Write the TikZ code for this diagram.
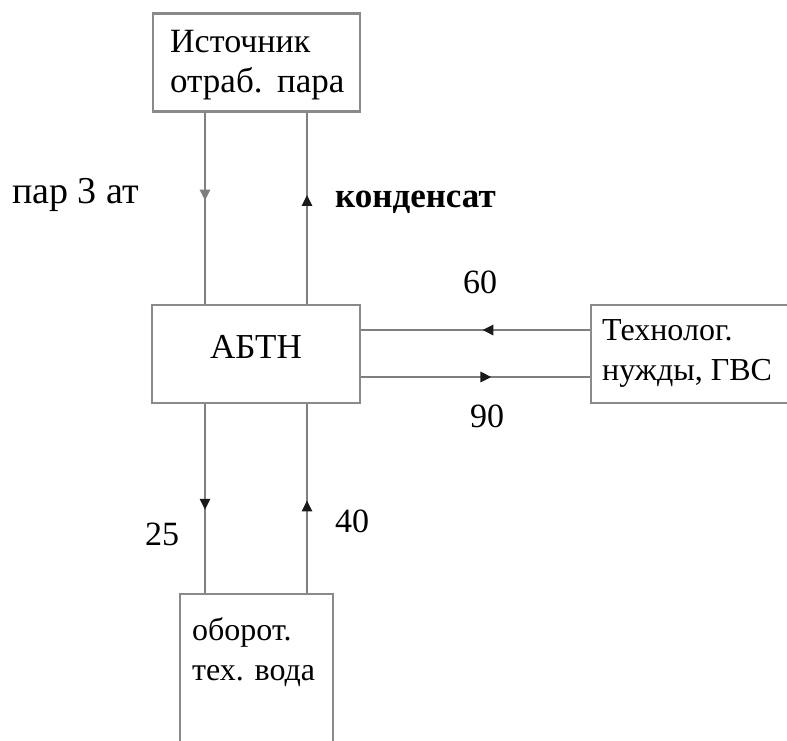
\documentclass[tikz,border=0pt]{standalone}
\usepackage{fontspec}
\setmainfont{Liberation Serif}
\usetikzlibrary{arrows.meta,decorations.markings}
\definecolor{boxgray}{HTML}{8A8A8A}
\definecolor{linegray}{HTML}{7F7F7F}
\definecolor{tipdark}{HTML}{1A1A1A}
\begin{document}
\begin{tikzpicture}[x=1pt,y=-1pt,
  box/.style={draw=boxgray, line width=2.8pt, fill=white, inner sep=0pt, rectangle},
  flow/.style={draw=linegray, line width=2.8pt},
  midtip/.style 2 args={postaction={decorate}, decoration={markings,
      mark=at position #1 with {\arrow[#2]{Triangle[width=10pt,length=11pt]}}}},
  lbl/.style={font=\fontsize{34}{42}\selectfont, inner sep=0pt, anchor=base west, text=black},
  small/.style={font=\fontsize{32}{40}\selectfont}]
\useasboundingbox (0,0) rectangle (787,740);
\clip (0,0) rectangle (787,740);
\fill[white] (0,0) rectangle (787,740);
% boxes
\node[box, minimum width=207pt, minimum height=98pt] (src) at (256.5,62.5) {};
\node[box, minimum width=208pt, minimum height=98pt, font=\fontsize{35}{42}\selectfont, text depth=15pt] (abtn) at (256,354) {АБТН};
\node[box, minimum width=209pt, minimum height=98pt] (tech) at (695.5,354) {};
\node[box, minimum width=153pt, minimum height=206pt] (water) at (256.5,697) {};
% x positions of vertical connectors
\coordinate (xl) at (205,0);
\coordinate (xr) at (307,0);
\coordinate (yu) at (0,330);
\coordinate (yd) at (0,377);
% connectors
\draw[flow, midtip={0.46}{linegray}] (src.south -| xl) -- (abtn.north -| xl);
\draw[flow, midtip={0.57}{tipdark}] (abtn.north -| xr) -- (src.south -| xr);
\draw[flow, midtip={0.47}{tipdark}] (tech.west |- yu) -- (abtn.east |- yu);
\draw[flow, midtip={0.57}{tipdark}] (abtn.east |- yd) -- (tech.west |- yd);
\draw[flow, midtip={0.56}{tipdark}] (abtn.south -| xl) -- (water.north -| xl);
\draw[flow, midtip={0.49}{tipdark}] (water.north -| xr) -- (abtn.south -| xr);
% texts
\node[lbl] (t1) at (170,52) {Источник};
\node[lbl, font=\fontsize{35}{42}\selectfont] (t2) at (170,92) {отраб.\hspace{3pt} пара};
\node[lbl, font=\fontsize{38}{44}\selectfont] (t3) at (12,203) {пар 3 ат};
\node[lbl, font=\fontsize{35}{42}\selectfont\bfseries] (t4) at (335,207) {конденсат};
\node[lbl] (t5) at (463,293) {60};
\node[lbl] (t6) at (470,427) {90};
\node[lbl, small] (t7) at (602,340) {Технолог.};
\node[lbl, small] (t8) at (602,380) {нужды, ГВС};
\node[lbl] (t9) at (145,545) {25};
\node[lbl] (t10) at (335,532) {40};
\node[lbl, small] (t11) at (192,640) {оборот.};
\node[lbl, small] (t12) at (192,680) {тех. вода};
\end{tikzpicture}
\end{document}
